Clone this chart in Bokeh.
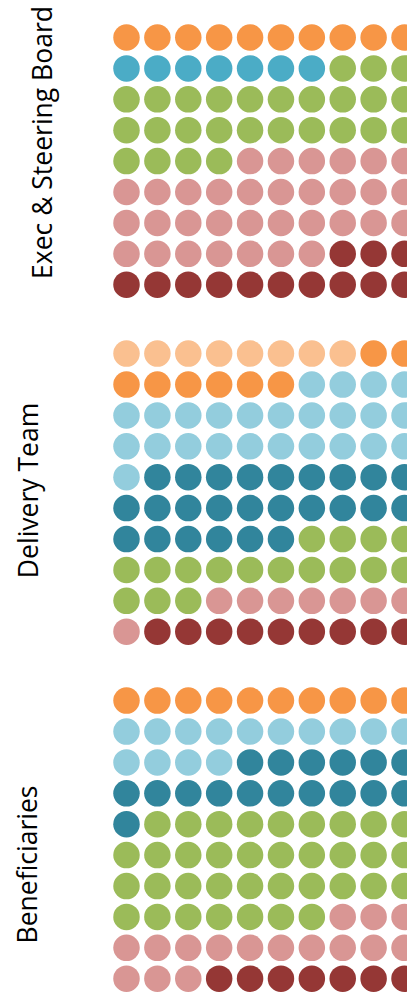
import math
from bokeh.plotting import figure
from bokeh.models import ColumnDataSource, Range1d
from bokeh.core.properties import value
from bokeh.embed import file_html
from bokeh.resources import INLINE

# ---- data ----
panel_names = ["Exec & Steering Board", "Delivery Team", "Beneficiaries"]

exec_groups = ["orange", "blue", "green", "pink", "dark red"]
exec_counts = [10, 7, 27, 33, 13]

delivery_groups = ["light orange", "orange", "light blue", "teal", "green", "pink", "dark red"]
delivery_counts = [8, 8, 25, 25, 17, 8, 9]

benef_groups = ["orange", "light blue", "teal", "green", "pink", "dark red"]
benef_counts = [10, 14, 17, 36, 16, 7]

n_cols = 10

# ---- styling / layout ----
palette = {
    "orange": "#F79646",
    "blue": "#4BACC6",
    "green": "#9BBB59",
    "pink": "#D99694",
    "dark red": "#953735",
    "light orange": "#FAC090",
    "light blue": "#93CDDD",
    "teal": "#31859C",
}
panel_row_offset = [0.0, 10.23, 21.46]

W, H = 407, 993
col_px, row_px = 30.89, 30.9
x0_px, y0_px = 126.0, 37.0
x_start = -x0_px / col_px
x_end = x_start + W / col_px
y_top = -y0_px / row_px
y_bottom = y_top + H / row_px

def px_to_x(px):
    return x_start + px / col_px

def px_to_y(py):
    return y_top + py / row_px

label_x = [px_to_x(41), px_to_x(27.5), px_to_x(26)]
label_y = [px_to_y(142), px_to_y(490), px_to_y(864)]

xs, ys, cs = [], [], []
for (groups, counts), off in zip(
    [(exec_groups, exec_counts), (delivery_groups, delivery_counts), (benef_groups, benef_counts)],
    panel_row_offset,
):
    k = 0
    for g, c in zip(groups, counts):
        for _ in range(c):
            xs.append(k % n_cols)
            ys.append(off + k // n_cols)
            cs.append(palette[g])
            k += 1

src = ColumnDataSource(dict(x=xs, y=ys, color=cs))

p = figure(
    width=W, height=H, output_backend="svg", toolbar_location=None,
    x_range=Range1d(x_start, x_end), y_range=Range1d(y_bottom, y_top),
    x_axis_location=None, y_axis_location=None, min_border=0,
)
p.outline_line_color = None
p.xgrid.visible = False
p.ygrid.visible = False
p.background_fill_color = "white"
p.border_fill_color = "white"

p.scatter("x", "y", source=src, size=26.5, marker="circle",
          fill_color="color", line_color=None)

lsrc = ColumnDataSource(dict(x=label_x, y=label_y, t=panel_names))
p.text("x", "y", text="t", source=lsrc, angle=math.pi / 2,
       text_align="center", text_baseline="alphabetic",
       text_font=value("Open Sans"), text_font_size="26.5px", text_color="black")

open("out.html", "w").write(file_html(p, INLINE))
